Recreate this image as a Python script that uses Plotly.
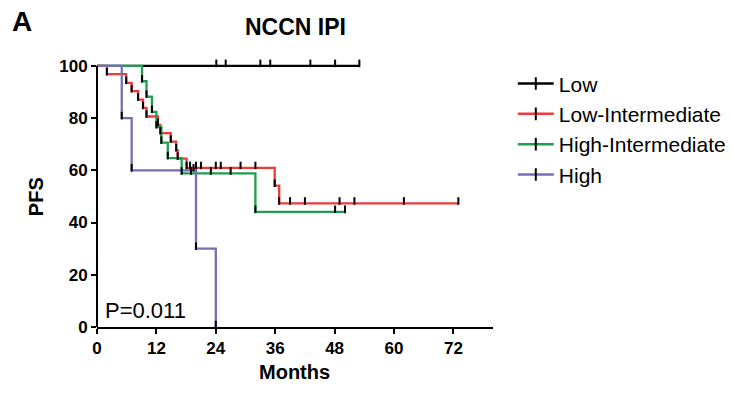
import plotly.graph_objects as go

# ---------------- data ----------------
groups = ["Low", "Low-Intermediate", "High-Intermediate", "High"]
colors = ["#000000", "#f03a3a", "#1f9e4f", "#7a6db5"]

# event (drop) times in months and the survival (%) after each drop
low_event_t = []
low_event_s = []
low_censor_t = [24.1, 26.0, 33.0, 35.0, 43.1, 48.1, 53.0]
low_end = 53.0

lowint_event_t = [2.0, 5.9, 7.0, 8.3, 9.3, 10.0, 12.3, 12.8, 14.9, 16.0, 16.3, 18.1, 35.9, 36.8]
lowint_event_s = [96.8, 93.5, 90.3, 87.1, 83.9, 80.6, 77.4, 74.2, 71.0, 67.7, 64.5, 60.9, 54.1, 47.3]
lowint_censor_t = [18.8, 20.0, 21.0, 24.0, 25.0, 29.0, 32.0, 39.0, 42.0, 49.0, 52.0, 62.0, 73.0]
lowint_end = 73.0

highint_event_t = [9.1, 10.0, 11.1, 12.0, 13.0, 14.3, 17.1, 32.0]
highint_event_s = [94.1, 88.2, 82.4, 76.5, 70.6, 64.7, 58.8, 44.1]
highint_censor_t = [19.0, 23.0, 27.0, 48.1, 50.1]
highint_end = 50.1

high_event_t = [5.0, 7.0, 20.0, 24.0]
high_event_s = [80.0, 60.0, 30.0, 0.0]
high_censor_t = [19.5]
high_end = 24.0

x_ticks = [0, 12, 24, 36, 48, 60, 72]
y_ticks = [0, 20, 40, 60, 80, 100]
title_text = "NCCN IPI"
panel_label = "A"
x_title = "Months"
y_title = "PFS"
p_text = "P=0.011"

series = [
    (low_event_t, low_event_s, low_censor_t, low_end),
    (lowint_event_t, lowint_event_s, lowint_censor_t, lowint_end),
    (highint_event_t, highint_event_s, highint_censor_t, highint_end),
    (high_event_t, high_event_s, high_censor_t, high_end),
]

# ---------------- helpers ----------------
def step_path(ev_t, ev_s, end_t):
    xs, ys, cur = [0.0], [100.0], 100.0
    for t, s in zip(ev_t, ev_s):
        xs += [t, t]
        ys += [cur, s]
        cur = s
    if not ev_t or end_t > ev_t[-1]:
        xs.append(end_t)
        ys.append(cur)
    return xs, ys

def level_at(ev_t, ev_s, t):
    cur = 100.0
    for et, es in zip(ev_t, ev_s):
        if et <= t:
            cur = es
    return cur

FONT = "Liberation Sans, Arial, sans-serif"
TICK_UP, TICK_DOWN = 2.4, 0.5

fig = go.Figure()

# step lines
for (ev_t, ev_s, c_t, end_t), name, col in zip(series, groups, colors):
    xs, ys = step_path(ev_t, ev_s, end_t)
    fig.add_trace(go.Scatter(x=xs, y=ys, mode="lines", name=name,
                             line=dict(color=col, width=2.3),
                             showlegend=False, hoverinfo="skip"))

# tick marks (events and censored observations)
for (ev_t, ev_s, c_t, end_t), name in zip(series, groups):
    tx = list(ev_t) + list(c_t)
    ty = list(ev_s) + [level_at(ev_t, ev_s, t) for t in c_t]
    fig.add_trace(go.Scatter(
        x=tx, y=ty, mode="markers", showlegend=False, hoverinfo="skip",
        marker=dict(size=1, opacity=0),
        error_y=dict(type="data", symmetric=False,
                     array=[TICK_UP] * len(tx), arrayminus=[TICK_DOWN] * len(tx),
                     width=0, thickness=2, color="black"),
        cliponaxis=False))

# legend entries
for name, col in zip(groups, colors):
    fig.add_trace(go.Scatter(
        x=[None], y=[None], mode="lines+markers", name=name,
        line=dict(color=col, width=2.5),
        marker=dict(symbol="line-ns", size=9, line=dict(color="black", width=2))))

# y axis line (only 0..100)
fig.add_shape(type="line", xref="paper", yref="y", x0=0, x1=0, y0=0, y1=100,
              line=dict(color="black", width=2))

fig.update_layout(
    width=733, height=394,
    margin=dict(l=97, r=240, t=58, b=67, autoexpand=False),
    paper_bgcolor="white", plot_bgcolor="white",
    font=dict(family=FONT, color="black"),
    xaxis=dict(range=[0, 80], tickvals=x_ticks, ticktext=[str(v) for v in x_ticks],
               showline=True, linecolor="black", linewidth=2,
               ticks="outside", ticklen=5, tickwidth=2, tickcolor="black",
               showgrid=False, zeroline=False,
               tickfont=dict(family=FONT, size=17, weight="bold")),
    yaxis=dict(range=[0, 103], tickvals=y_ticks, ticktext=[str(v) for v in y_ticks],
               showline=False, ticks="outside", ticklen=5, tickwidth=2, tickcolor="black",
               showgrid=False, zeroline=False,
               tickfont=dict(family=FONT, size=17, weight="bold")),
    legend=dict(x=1.05, y=0.98, xanchor="left", yanchor="top",
                font=dict(family=FONT, size=21), itemwidth=36,
                bgcolor="rgba(0,0,0,0)"),
    showlegend=True,
)

def ann(text, x, y, size, bold=True, **kw):
    kw.setdefault("xanchor", "center")
    fig.add_annotation(text=text, xref="paper", yref="paper", x=x, y=y,
                       showarrow=False, yanchor="middle",
                       font=dict(family=FONT, size=size, weight="bold" if bold else "normal"),
                       **kw)

ann(panel_label, -0.190, 1.1345, 28)
ann(title_text, 0.5015, 1.116, 23)
ann(y_title, -0.152, 0.4857, 20, textangle=-90)
ann(x_title, 0.4987, -0.166, 20)
ann(p_text, 0.0144, 0.0606, 22, bold=False, xanchor="left")

fig.write_html("out.html")
